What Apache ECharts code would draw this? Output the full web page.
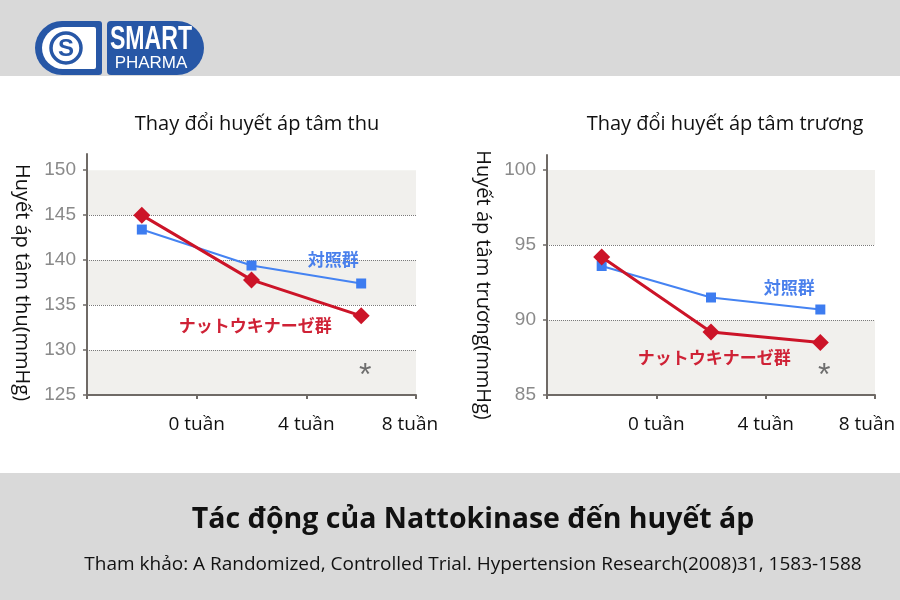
<!DOCTYPE html>
<html><head><meta charset="utf-8">
<script src="https://cdn.jsdelivr.net/npm/echarts@6/dist/echarts.min.js"></script>
<style>html,body{margin:0;padding:0;background:#fff}#c{width:900px;height:600px}</style>
</head><body><div id="c"></div>
<script>
// ---- data ----
const weeks = ['0', '4', '8'];
const weekTickLabels = ['0 tuần', '4 tuần', '8 tuần'];
const sysControl = [143.4, 139.4, 137.4];
const sysNatto = [145.0, 137.8, 133.8];
const diaControl = [93.6, 91.5, 90.7];
const diaNatto = [94.2, 89.2, 88.5];
const sysTicks = [125, 130, 135, 140, 145, 150];
const diaTicks = [85, 90, 95, 100];
const controlName = '対照群';
const nattoName = 'ナットウキナーゼ群';

const BLUE = '#3d7cf0', RED = '#cc1428', AX = '#6f6a66';
const TXT = "'Open Sans', Lato, sans-serif";
const JP = "'Noto Sans CJK JP', sans-serif";

function grid(left, top, width, height) { return { left, top, width, height, containLabel: false, outerBoundsMode: 'none' }; }
function catAxis(gi) {
  return { type: 'category', gridIndex: gi, data: weeks, boundaryGap: true,
    axisLine: { lineStyle: { color: AX, width: 2 } },
    axisTick: { show: true, length: 4, lineStyle: { color: AX, width: 2 } },
    axisLabel: { show: false }, splitLine: { show: false } };
}
function labelAxis(gi, lastPad) {
  return { type: 'value', gridIndex: gi, min: 0, max: 3, interval: 1, position: 'bottom',
    axisLine: { show: false }, axisTick: { show: false }, splitLine: { show: false },
    axisLabel: { show: true, margin: 20, color: '#111', fontSize: 19, fontFamily: TXT,
      customValues: [1, 2, 3],
      formatter: v => v === weekTickLabels.length ? '{last|' + weekTickLabels[v - 1] + '}' : (weekTickLabels[v - 1] || ''),
      rich: { last: { color: '#111', fontSize: 19, fontFamily: TXT, padding: [0, lastPad, 0, 0] } } } };
}
function valAxis(gi, min, max, ticks, name, gap, shift) {
  return { type: 'value', gridIndex: gi, min, max, interval: 5,
    name, nameLocation: 'middle', nameRotate: -90, nameGap: gap,
    nameTextStyle: { color: '#111', fontSize: 20, fontFamily: TXT, padding: [0, 0, 0, shift] },
    axisLine: { show: true, lineStyle: { color: AX, width: 2 } },
    axisTick: { show: true, length: 4, customValues: ticks, lineStyle: { color: AX, width: 1.5 } },
    axisLabel: { color: '#8a8a8a', fontSize: 19, fontFamily: "'Liberation Sans', Arial, sans-serif", margin: 11, customValues: ticks },
    splitLine: { show: true, showMaxLine: false, showMinLine: false, lineStyle: { color: '#7a7a7a', type: 'dotted', width: 1 } },
    splitArea: { show: true, areaStyle: { color: ['#f1f0ed', '#ffffff'] } } };
}
function ctrlSeries(gi, data, lblOffset) {
  return { type: 'line', xAxisIndex: gi * 2, yAxisIndex: gi, data: data.map((v, i) => i === data.length - 1 ?
      { value: v, label: { show: true, formatter: controlName, position: 'inside', offset: lblOffset,
        color: '#4a80ec', fontSize: 17, fontWeight: 'bold', fontFamily: JP } } : v),
    symbol: 'rect', symbolSize: 10, itemStyle: { color: BLUE }, lineStyle: { color: '#4583f2', width: 2 }, z: 3 };
}
function nattoSeries(gi, data, lblOffset, starY) {
  return { type: 'line', xAxisIndex: gi * 2, yAxisIndex: gi, data: data.map((v, i) => i === data.length - 1 ?
      { value: v, label: { show: true, formatter: nattoName, position: 'inside', offset: lblOffset,
        color: '#cf2236', fontSize: 17, fontWeight: 'bold', fontFamily: JP } } : v),
    symbol: 'diamond', symbolSize: 17, itemStyle: { color: RED }, lineStyle: { color: RED, width: 3 }, z: 4,
    markPoint: { symbol: 'circle', symbolSize: 0, silent: true,
      label: { show: true, formatter: '*', color: '#6e6e6e', fontSize: 32, fontFamily: "'Liberation Sans', sans-serif", offset: [4, 8] },
      data: [{ coord: [weeks.length - 1, starY] }] } };
}

const chart = echarts.init(document.getElementById('c'), null, { renderer: 'canvas' });
chart.setOption({
  backgroundColor: '#ffffff',
  animation: false,
  grid: [grid(87, 154, 329, 241), grid(547, 155, 328, 240)],
  xAxis: [catAxis(0), labelAxis(0, 12), catAxis(1), labelAxis(1, 16)].map((a, i) => Object.assign(a, { gridIndex: i < 2 ? 0 : 1 })),
  yAxis: [valAxis(0, 125, 151.8, sysTicks, 'Huyết áp tâm thu(mmHg)', 55, 16), valAxis(1, 85, 101, diaTicks, 'Huyết áp tâm trương(mmHg)', 54, 20)],
  series: [
    ctrlSeries(0, sysControl, [-28, -24]),
    nattoSeries(0, sysNatto, [-106, 10], 128),
    ctrlSeries(1, diaControl, [-31, -22]),
    nattoSeries(1, diaNatto, [-106, 15], 86.8)
  ],
  graphic: [
    { type: 'rect', left: 0, top: 0, shape: { width: 900, height: 76 }, style: { fill: '#d9d9d9' }, z: -10 },
    { type: 'rect', left: 0, top: 473, shape: { width: 900, height: 127 }, style: { fill: '#d9d9d9' }, z: -10 },
    // logo
    { type: 'rect', shape: { x: 35, y: 21, width: 67, height: 54, r: [27, 3, 3, 27] }, style: { fill: '#2757a6' } },
    { type: 'rect', shape: { x: 42, y: 27, width: 54, height: 42, r: [21, 2, 2, 21] }, style: { fill: '#ffffff' } },
    { type: 'circle', shape: { cx: 66, cy: 48, r: 15 }, style: { fill: 'none', stroke: '#2757a6', lineWidth: 3.5 } },
    { type: 'text', style: { x: 66, y: 49, text: 'S', fill: '#2757a6', font: "bold 24px 'Liberation Sans', sans-serif", textAlign: 'center', textVerticalAlign: 'middle' } },
    { type: 'rect', shape: { x: 107, y: 21, width: 97, height: 54, r: [4, 27, 27, 4] }, style: { fill: '#2757a6' } },
    { type: 'text', x: 151, y: 40, scaleX: 0.7, style: { x: 0, y: 0, text: 'SMART', fill: '#ffffff', font: "bold 33px 'Liberation Sans', sans-serif", textAlign: 'center', textVerticalAlign: 'middle' } },
    { type: 'text', style: { x: 151, y: 63, text: 'PHARMA', fill: '#ffffff', font: "17px 'Liberation Sans', sans-serif", textAlign: 'center', textVerticalAlign: 'middle' } },
    // chart titles
    { type: 'text', style: { x: 257, y: 124, text: 'Thay đổi huyết áp tâm thu', fill: '#111', font: "20px " + TXT, textAlign: 'center', textVerticalAlign: 'middle' } },
    { type: 'text', style: { x: 725, y: 124, text: 'Thay đổi huyết áp tâm trương', fill: '#111', font: "20px " + TXT, textAlign: 'center', textVerticalAlign: 'middle' } },
    // footer
    { type: 'text', style: { x: 473, y: 520, text: 'Tác động của Nattokinase đến huyết áp', fill: '#111', font: "bold 28.5px " + TXT, textAlign: 'center', textVerticalAlign: 'middle' } },
    { type: 'text', style: { x: 473, y: 565, text: 'Tham khảo: A Randomized, Controlled Trial. Hypertension Research(2008)31, 1583-1588', fill: '#111', font: "19px " + TXT, textAlign: 'center', textVerticalAlign: 'middle' } }
  ]
});
</script>
</body></html>
